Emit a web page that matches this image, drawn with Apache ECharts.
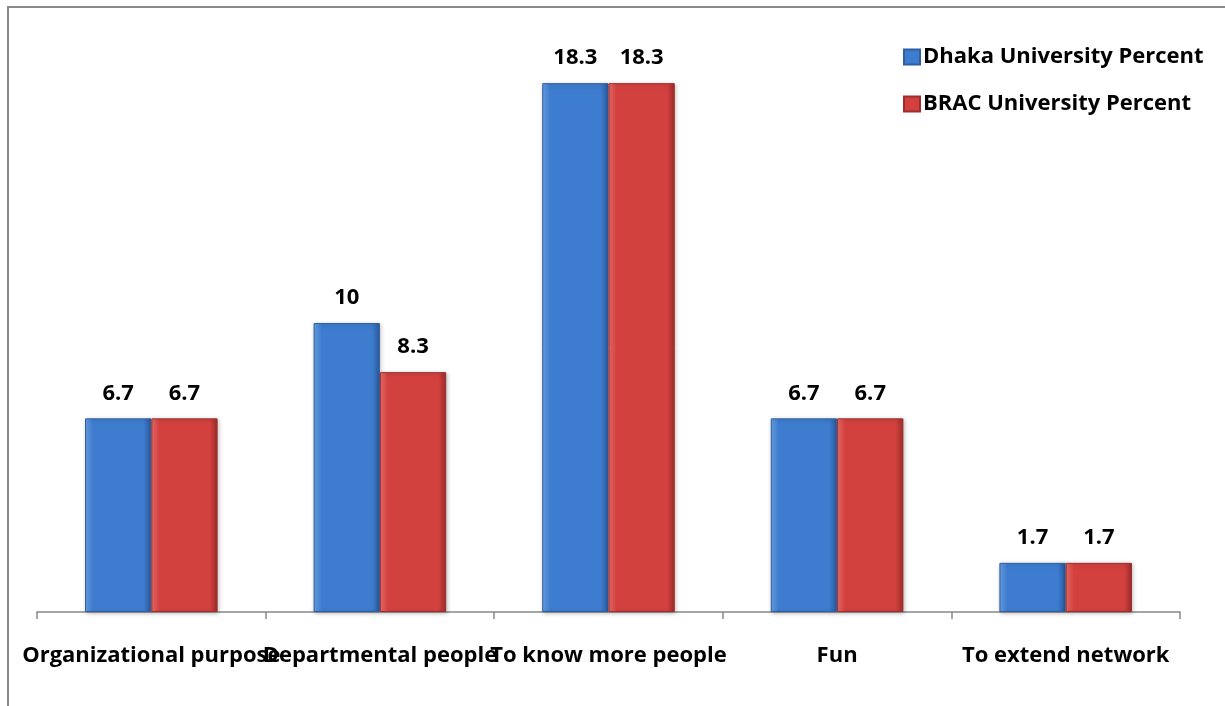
<!DOCTYPE html>
<html>
<head>
<meta charset="utf-8">
<script src="https://cdn.jsdelivr.net/npm/echarts@6/dist/echarts.min.js"></script>
<style>
  html, body { margin: 0; padding: 0; background: #fff; }
  #chart { width: 1225px; height: 706px; }
</style>
</head>
<body>
<div id="chart"></div>
<script>
// Reasons for using the network, by university (percent)
const categories = ['Organizational purpose', 'Departmental people', 'To know more people', 'Fun', 'To extend network'];
const dhakaPercent = [6.7, 10, 18.3, 6.7, 1.7];
const bracPercent = [6.7, 8.3, 18.3, 6.7, 1.7];
const seriesNames = ['Dhaka University Percent', 'BRAC University Percent'];

const FONT = '"Open Sans", sans-serif';

function bevel(light, mid, dark) {
  return new echarts.graphic.LinearGradient(0, 0, 1, 0, [
    { offset: 0, color: light },
    { offset: 0.12, color: mid },
    { offset: 0.88, color: mid },
    { offset: 1, color: dark }
  ]);
}

const chart = echarts.init(document.getElementById('chart'), null, { renderer: 'canvas' });

const labelStyle = {
  show: true,
  position: 'top',
  distance: 14,
  fontFamily: FONT,
  fontWeight: 'bold',
  fontSize: 22,
  color: '#000'
};

chart.setOption({
  animation: false,
  backgroundColor: '#fff',
  graphic: [{
    type: 'polyline',
    shape: { points: [[8, 720], [8, 7], [1240, 7]] },
    style: { stroke: '#8a8a8a', lineWidth: 2, fill: null },
    silent: true
  }],
  legend: {
    orient: 'vertical',
    left: 898,
    top: 41,
    itemGap: 25,
    itemWidth: 16,
    itemHeight: 15,
    icon: 'rect',
    textStyle: { fontFamily: FONT, fontWeight: 'bold', fontSize: 22, color: '#000', padding: [0, 0, 0, -2] },
    data: seriesNames
  },
  grid: { left: 37, right: 45, top: 34, bottom: 94, containLabel: false },
  xAxis: {
    type: 'category',
    data: categories,
    axisLine: { lineStyle: { color: '#888', width: 1.5 } },
    axisTick: { show: true, alignWithLabel: false, interval: 0, length: 7, lineStyle: { color: '#888', width: 1.5 } },
    axisLabel: {
      interval: 0,
      hideOverlap: false,
      margin: 33,
      fontFamily: FONT,
      fontWeight: 'bold',
      fontSize: 22,
      color: '#000'
    }
  },
  yAxis: {
    type: 'value',
    min: 0,
    max: 20,
    show: false,
    splitLine: { show: false }
  },
  series: [
    {
      name: seriesNames[0],
      type: 'bar',
      data: dhakaPercent,
      barGap: '0%',
      barCategoryGap: '42%',
      itemStyle: {
        color: bevel('#6aa2e6', '#3d7ccf', '#2b5a9e'),
        borderColor: '#2f5f9f',
        borderWidth: 1,
        shadowColor: 'rgba(0,0,0,0.25)',
        shadowBlur: 4,
        shadowOffsetX: 1,
        shadowOffsetY: 1
      },
      label: labelStyle
    },
    {
      name: seriesNames[1],
      type: 'bar',
      data: bracPercent,
      itemStyle: {
        color: bevel('#ec6e6a', '#d3413f', '#9e2c2a'),
        borderColor: '#9c2f2d',
        borderWidth: 1,
        shadowColor: 'rgba(0,0,0,0.25)',
        shadowBlur: 4,
        shadowOffsetX: 1,
        shadowOffsetY: 1
      },
      label: labelStyle
    }
  ]
});
</script>
</body>
</html>
